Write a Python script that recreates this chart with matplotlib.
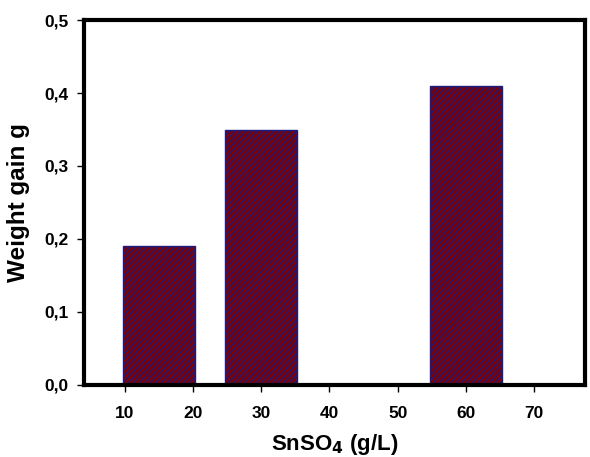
import numpy as np
import matplotlib.pyplot as plt

plt.rcParams['font.family'] = ['Liberation Sans', 'DejaVu Sans']
plt.rcParams['font.weight'] = 'bold'
plt.rcParams['hatch.linewidth'] = 1.0

conc = [15, 30, 60]
weight_gain = [0.19, 0.35, 0.41]
xticks = [10, 20, 30, 40, 50, 60, 70]
yticks = [0.0, 0.1, 0.2, 0.3, 0.4, 0.5]

fig = plt.figure(figsize=(5.9, 4.57), dpi=100)
ax = fig.add_axes([0.142, 0.158, 0.85, 0.798])

ax.bar(conc, weight_gain, width=10.6, color='#7f0000', edgecolor='#1a1a80',
       hatch='//////', linewidth=1.0)

ax.set_xlim(4, 77.5)
ax.set_ylim(0, 0.5)
ax.set_xticks(xticks)
ax.set_yticks(yticks)
ax.set_yticklabels([('%.1f' % v).replace('.', ',') for v in yticks])
ax.tick_params(labelsize=12.5, direction='out', length=5, width=1)
ax.tick_params(axis='x', pad=10)
ax.tick_params(axis='y', pad=6)

for s in ax.spines.values():
    s.set_linewidth(3)

ax.set_xlabel('SnSO$_\\mathbf{4}$ (g/L)', fontsize=16, fontweight='bold', labelpad=8)
ax.set_ylabel('Weight gain g', fontsize=17.5, fontweight='bold', labelpad=10)

fig.savefig('out.png', dpi=100)
